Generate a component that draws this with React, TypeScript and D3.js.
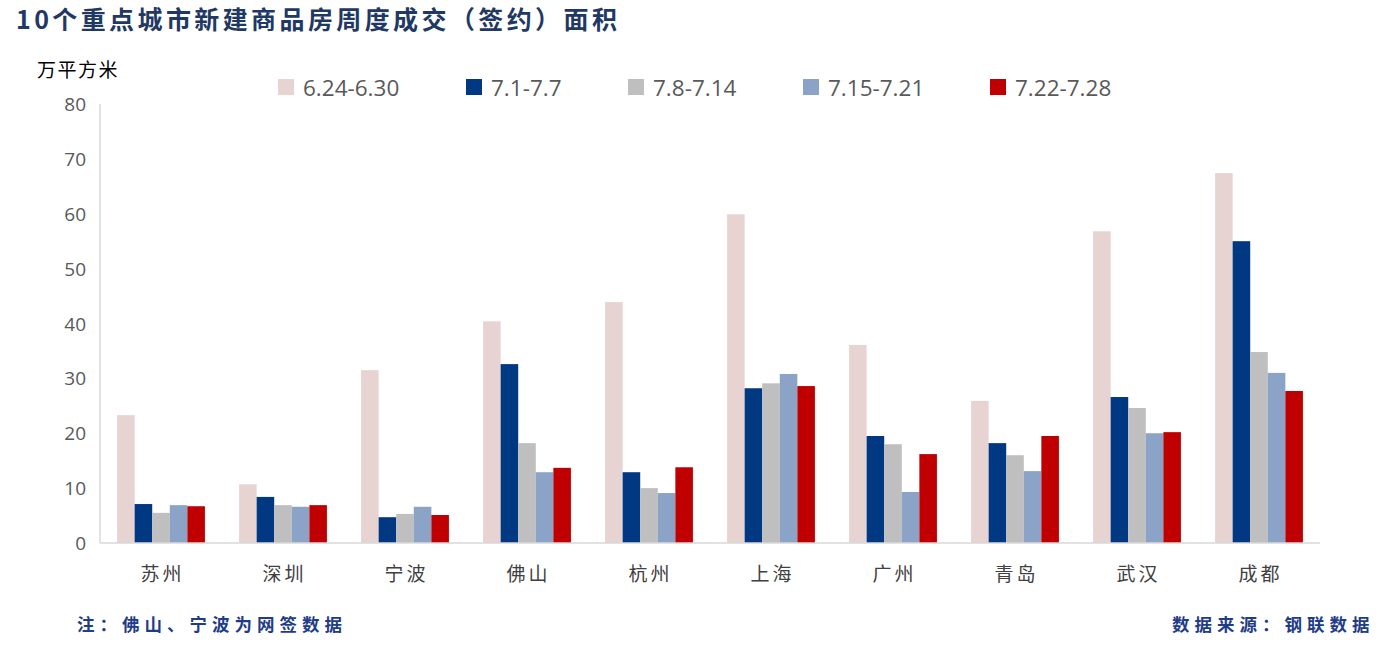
import React from "react";
import * as d3 from "d3";

const cities = ["苏州", "深圳", "宁波", "佛山", "杭州", "上海", "广州", "青岛", "武汉", "成都"];
const seriesNames = ["6.24-6.30", "7.1-7.7", "7.8-7.14", "7.15-7.21", "7.22-7.28"];
const w0624 = [23.3, 10.7, 31.5, 40.4, 43.9, 59.9, 36.1, 25.9, 56.8, 67.4];
const w0701 = [7.1, 8.4, 4.7, 32.6, 12.9, 28.2, 19.5, 18.2, 26.6, 55.0];
const w0708 = [5.5, 6.9, 5.3, 18.2, 10.0, 29.1, 18.0, 16.0, 24.6, 34.8];
const w0715 = [6.9, 6.6, 6.6, 12.9, 9.1, 30.8, 9.3, 13.1, 20.0, 31.0];
const w0722 = [6.7, 6.9, 5.1, 13.7, 13.8, 28.6, 16.2, 19.5, 20.2, 27.7];
const yTicks = [0, 10, 20, 30, 40, 50, 60, 70, 80];
const colors = ["#E8D3D3", "#003882", "#BFBFBF", "#8BA3C7", "#C00000"];

const seriesValues = [w0624, w0701, w0708, w0715, w0722];

export default function App() {
  const W = 1387, H = 646;
  const left = 100, right = 1320, top = 104, bottom = 543;
  const x = d3.scaleBand().domain(cities).range([left, right]).paddingInner(0.28).paddingOuter(0.14);
  const xs = d3.scaleBand().domain(seriesNames).range([0, x.bandwidth()]).padding(0);
  const y = d3.scaleLinear().domain([0, 80]).range([bottom, top]);
  const font = "'Noto Sans CJK SC', 'Noto Sans', sans-serif";
  const latin = "'Open Sans', 'Noto Sans', sans-serif";
  const legendX = [278, 466, 628, 803, 990];

  return (
    <svg width={W} height={H} style={{ position: "absolute", left: 0, top: 0, background: "#fff" }}>
      <rect width={W} height={H} fill="#fff" />
      <text x={16} y={29} fontSize={25} fontWeight={700} letterSpacing={3.4} fill="#1F3864" fontFamily={font}>
        10个重点城市新建商品房周度成交（签约）面积
      </text>
      <text x={37} y={77} fontSize={19} letterSpacing={1.5} fill="#000" fontFamily={font}>万平方米</text>

      {seriesNames.map((s, i) => (
        <g key={s}>
          <rect x={legendX[i]} y={79} width={16} height={16} fill={colors[i]} />
          <text x={legendX[i] + 25} y={96} fontSize={22.5} fill="#595959" fontFamily={latin}>{s}</text>
        </g>
      ))}

      {yTicks.map((t) => (
        <text key={t} x={86} y={y(t) + 7} textAnchor="end" fontSize={19} fill="#595959" fontFamily={latin}>{t}</text>
      ))}

      {seriesValues.map((vals, si) =>
        vals.map((v, ci) => (
          <rect
            key={`${si}-${ci}`}
            x={(x(cities[ci]) as number) + (xs(seriesNames[si]) as number)}
            y={y(v)}
            width={xs.bandwidth()}
            height={y(0) - y(v)}
            fill={colors[si]}
          />
        ))
      )}

      <line x1={left} x2={left} y1={top} y2={bottom} stroke="#D9D9DE" strokeWidth={1.5} />
      <line x1={left} x2={right} y1={bottom} y2={bottom} stroke="#D9D9D9" strokeWidth={1.5} />

      {cities.map((c) => (
        <text key={c} x={(x(c) as number) + x.bandwidth() / 2 + 1.5} y={581} textAnchor="middle" fontSize={19} letterSpacing={3} fill="#404040" fontFamily={font}>{c}</text>
      ))}

      <text x={77} y={631} fontSize={17.5} letterSpacing={5} fontWeight={700} fill="#1F3C88" fontFamily={font}>注：佛山、宁波为网签数据</text>
      <text x={1172} y={631} fontSize={17.5} letterSpacing={5} fontWeight={700} fill="#1F3C88" fontFamily={font}>数据来源：钢联数据</text>
    </svg>
  );
}
